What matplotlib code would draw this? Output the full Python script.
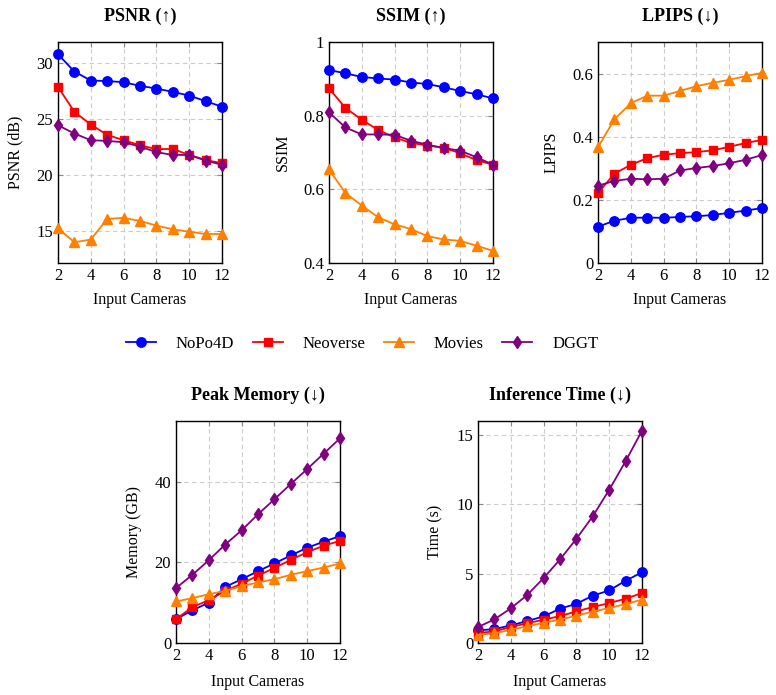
import numpy as np
import matplotlib
matplotlib.use('Agg')
import matplotlib.pyplot as plt

plt.rcParams['font.family'] = ['Liberation Serif', 'DejaVu Serif']
plt.rcParams['mathtext.fontset'] = 'stix'

# ==================== data ====================
cameras = [2, 3, 4, 5, 6, 7, 8, 9, 10, 11, 12]
methods = ['NoPo4D', 'Neoverse', 'Movies', 'DGGT']

psnr = {
    'NoPo4D':   [30.8, 29.25, 28.45, 28.4, 28.3, 27.97, 27.73, 27.43, 27.1, 26.6, 26.1],
    'Neoverse': [27.88, 25.64, 24.5, 23.58, 23.1, 22.65, 22.3, 22.32, 21.78, 21.33, 21.04],
    'Movies':   [15.2, 13.96, 14.2, 16.05, 16.14, 15.87, 15.45, 15.12, 14.9, 14.7, 14.7],
    'DGGT':     [24.44, 23.7, 23.1, 23.04, 22.92, 22.53, 22.03, 21.78, 21.78, 21.28, 20.9],
}
ssim = {
    'NoPo4D':   [0.924, 0.915, 0.905, 0.901, 0.898, 0.890, 0.886, 0.877, 0.867, 0.858, 0.847],
    'Neoverse': [0.874, 0.821, 0.789, 0.761, 0.741, 0.726, 0.719, 0.713, 0.698, 0.679, 0.667],
    'Movies':   [0.654, 0.590, 0.556, 0.524, 0.505, 0.492, 0.473, 0.464, 0.460, 0.447, 0.433],
    'DGGT':     [0.809, 0.768, 0.749, 0.749, 0.748, 0.732, 0.721, 0.712, 0.705, 0.687, 0.667],
}
lpips = {
    'NoPo4D':   [0.115, 0.134, 0.143, 0.144, 0.143, 0.146, 0.148, 0.152, 0.159, 0.166, 0.174],
    'Neoverse': [0.222, 0.283, 0.311, 0.332, 0.343, 0.348, 0.351, 0.357, 0.368, 0.380, 0.390],
    'Movies':   [0.367, 0.455, 0.506, 0.530, 0.530, 0.545, 0.560, 0.571, 0.580, 0.592, 0.602],
    'DGGT':     [0.245, 0.260, 0.267, 0.265, 0.267, 0.293, 0.301, 0.307, 0.316, 0.327, 0.342],
}
memory = {
    'NoPo4D':   [5.9, 8.1, 10.0, 13.9, 15.8, 17.8, 19.7, 21.7, 23.6, 25.1, 26.5],
    'Neoverse': [5.9, 8.9, 10.6, 12.9, 14.7, 16.7, 18.6, 20.6, 22.5, 24.1, 25.3],
    'Movies':   [10.3, 11.1, 12.1, 12.9, 14.1, 15.0, 15.8, 16.9, 17.8, 18.7, 19.7],
    'DGGT':     [13.6, 16.9, 20.5, 24.4, 27.9, 31.9, 35.6, 39.4, 43.1, 46.9, 50.7],
}
inf_time = {
    'NoPo4D':   [0.91, 1.0, 1.27, 1.58, 1.92, 2.47, 2.83, 3.41, 3.79, 4.49, 5.09],
    'Neoverse': [0.72, 0.84, 1.15, 1.42, 1.68, 1.94, 2.28, 2.59, 2.88, 3.19, 3.6],
    'Movies':   [0.6, 0.7, 0.96, 1.2, 1.46, 1.68, 1.97, 2.26, 2.52, 2.81, 3.12],
    'DGGT':     [1.15, 1.7, 2.5, 3.46, 4.68, 6.02, 7.51, 9.14, 11.04, 13.1, 15.3],
}
# ==============================================

styles = {
    'NoPo4D':   dict(color='#0000ff', marker='o', markersize=6.8),
    'Neoverse': dict(color='#ff0000', marker='s', markersize=6.2),
    'Movies':   dict(color='#ff8000', marker='^', markersize=6.8),
    'DGGT':     dict(color='#800080', marker='d', markersize=6.3),
}

W, H = 776, 695
fig = plt.figure(figsize=(W / 100, H / 100), dpi=100)

def px_axes(left, top, right, bottom):
    return fig.add_axes([left / W, 1 - bottom / H, (right - left) / W, (bottom - top) / H])

panels = [
    (px_axes(58, 42, 222, 263), psnr, 'PSNR (↑)', 'PSNR (dB)', (12.1, 31.9), [15, 20, 25, 30], None, 5.5),
    (px_axes(329, 42, 493, 263), ssim, 'SSIM (↑)', 'SSIM', (0.4, 1.0), [0.4, 0.6, 0.8, 1.0], ['0.4', '0.6', '0.8', '1'], 5.5),
    (px_axes(598, 42, 762, 263), lpips, 'LPIPS (↓)', 'LPIPS', (0, 0.7), [0, 0.2, 0.4, 0.6], ['0', '0.2', '0.4', '0.6'], 5.5),
    (px_axes(176, 421, 340, 643), memory, 'Peak Memory (↓)', 'Memory (GB)', (0, 55), [0, 20, 40], None, 7),
    (px_axes(478, 421, 642, 643), inf_time, 'Inference Time (↓)', 'Time (s)', (0, 16), [0, 5, 10, 15], None, 7),
]

for ax, data, title, ylabel, ylim, yticks, yticklabels, xpad in panels:
    for m in methods:
        ax.plot(cameras, data[m], linewidth=1.3, label=m, clip_on=False, zorder=3, **styles[m])
    ax.set_xlim(2, 12)
    ax.set_ylim(*ylim)
    ax.set_xticks([2, 4, 6, 8, 10, 12])
    ax.set_yticks(yticks)
    if yticklabels:
        ax.set_yticklabels(yticklabels)
    ax.grid(True, color='#cccccc', linestyle=(0, (4, 3)), linewidth=0.8)
    ax.set_axisbelow(True)
    ax.tick_params(direction='in', top=True, right=True, labelsize=12, length=3.5,
                   color='#888888', width=0.8)
    ax.set_title(title, fontsize=13, fontweight='bold', pad=15)
    ax.set_xlabel('Input Cameras', fontsize=11.5, labelpad=xpad)
    ax.set_ylabel(ylabel, fontsize=11.5, labelpad=9)
    for s in ax.spines.values():
        s.set_linewidth(1.0)

handles, labels = panels[0][0].get_legend_handles_labels()
fig.legend(handles, labels, loc='center', bbox_to_anchor=(362 / W, 1 - 344 / H), ncol=4,
           frameon=False, fontsize=12, handlelength=1.8, handletextpad=1.2, columnspacing=1.1)

fig.savefig('out.png', dpi=100)
